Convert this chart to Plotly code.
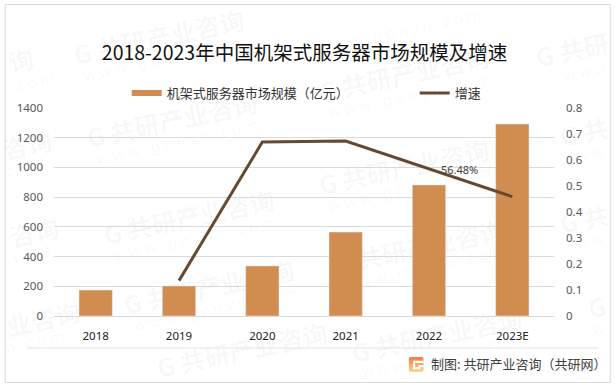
import base64
import plotly.graph_objects as go

W, H = 615, 387
L, R, T, B = 54.3, 554.3, 108, 316

categories = ["2018", "2019", "2020", "2021", "2022", "2023E"]
market_size = [175, 202, 337, 565, 882, 1292]
growth = [None, 0.136, 0.669, 0.673, 0.5648, 0.459]
title = "2018-2023年中国机架式服务器市场规模及增速"
bar_name = "机架式服务器市场规模（亿元）"
line_name = "增速"
source = "制图: 共研产业咨询（共研网）"
left_ticks = [0, 200, 400, 600, 800, 1000, 1200, 1400]
right_ticks = [0, 0.1, 0.2, 0.3, 0.4, 0.5, 0.6, 0.7, 0.8]
right_labels = ["0", "0.1", "0.2", "0.3", "0.4", "0.5", "0.6", "0.7", "0.8"]
# watermark pieces: centre x, centre y, text, size
wm_main = "G 共研产业咨询"
wm_url = "w w w . g o n y n . c o m"
watermarks = [
    (160, 40, wm_main, 25), (165, 59, wm_url, 15),
    (173, 123, wm_main, 25), (178, 142, wm_url, 15),
    (190, 220, wm_main, 25), (195, 239, wm_url, 15),
    (210, 290, wm_main, 25), (215, 309, wm_url, 15),
    (243, 353, wm_main, 25),
    (405, 77, wm_main, 25), (410, 96, wm_url, 15),
    (405, 170, wm_main, 25), (410, 189, wm_url, 15),
    (420, 250, wm_main, 25), (425, 269, wm_url, 15),
    (438, 338, wm_main, 25), (443, 356, wm_url, 15),
    (400, 32, wm_url, 15),
    (22, 63, "询", 25), (32, 83, ". c o m", 15),
    (28, 148, "咨询", 25), (25, 168, "c o m", 15),
    (35, 235, "咨询", 25), (28, 255, ". c o m", 15),
    (44, 322, "业咨询", 25), (35, 342, "n . c o m", 15),
    (573, 53, "G 共研", 25), (585, 72, "w w w", 15),
    (585, 135, "G 共", 25), (590, 154, "w w", 15),
    (585, 222, "G 共", 25), (590, 241, "w w", 15),
    (598, 310, "G", 25), (598, 329, "w", 15),
]

BAR = "#D18C4F"
LINE = "#67492F"
FONT = "Noto Sans CJK SC"


def px(x):
    return (x - L) / (R - L)


def py(y):
    return (B - y) / (B - T)


fig = go.Figure()
fig.add_bar(x=categories, y=market_size, marker_color=BAR, name=bar_name,
            showlegend=False, width=0.4)
fig.add_scatter(x=categories, y=[None] * 6, mode="lines", name=bar_name,
                line=dict(color=BAR, width=6), legend="legend")
fig.add_scatter(x=categories, y=growth, yaxis="y2", mode="lines", name=line_name,
                line=dict(color=LINE, width=3), connectgaps=False, legend="legend2", showlegend=True)

annotations = [
    dict(xref="x", yref="y2", x=categories.index("2022"), y=growth[4], xshift=30, yshift=0,
         xanchor="center", yanchor="middle", text=f"{growth[4] * 100:.2f}%", showarrow=False,
         font=dict(size=11, color="#404040", family="Noto Sans")),
    dict(xref="paper", yref="paper", x=px(429), y=py(363), xanchor="left", yanchor="middle", text=source,
         showarrow=False, font=dict(size=13, color="#404040", family=FONT)),
]

shapes = []
for wx, wy, wtext, wsize in watermarks:
    is_url = wsize < 20
    shapes.append(dict(type="rect", layer="below", xref="paper", yref="paper",
                       x0=px(wx - 1), x1=px(wx + 1), y0=py(wy + 1), y1=py(wy - 1),
                       line=dict(width=0), fillcolor="rgba(0,0,0,0)",
                       label=dict(text=wtext if is_url else f"<b>{wtext}</b>", textangle=-12,
                                  textposition="middle center",
                                  font=dict(size=wsize, color="rgba(0,0,0,0.035)",
                                            family="Noto Sans" if is_url else FONT))))
shapes += [
    dict(type="rect", xref="paper", yref="paper", x0=px(5.5), x1=px(610.5), y0=py(4.5), y1=py(382.5),
         line=dict(color="#D9D9D9", width=1), fillcolor="rgba(0,0,0,0)"),
    dict(type="line", xref="paper", yref="paper", x0=px(27), x1=px(599), y0=py(348), y1=py(348),
         line=dict(color="#E3E3E3", width=1)),
]

svg = ('<svg xmlns="http://www.w3.org/2000/svg" width="14" height="14"><defs><linearGradient id="g" x1="0" y1="0" x2="0" y2="1">'
       '<stop offset="0" stop-color="#F4784A"/><stop offset="1" stop-color="#FBD58C"/></linearGradient></defs>'
       '<rect width="14" height="14" rx="2" fill="url(#g)"/>'
       '<path d="M4 3.5H14V5.5H6V9.5H9V7.5H14V9.5H11V11.5H4Z" fill="#fff"/></svg>')
logo = "data:image/svg+xml;base64," + base64.b64encode(svg.encode()).decode()

legend_font = dict(size=13, color="#333333", family=FONT)
fig.update_layout(
    width=W, height=H,
    margin=dict(l=L, r=W - R, t=T, b=H - B, pad=0),
    paper_bgcolor="white", plot_bgcolor="rgba(0,0,0,0)",
    font=dict(family=FONT),
    title=dict(text=title, x=304.5 / W, xanchor="center", y=1 - 53 / H, yanchor="middle",
               font=dict(size=19.5, color="#111111", family=FONT)),
    bargap=0.6,
    showlegend=True,
    legend=dict(orientation="h", x=px(127), y=py(93), xanchor="left", yanchor="middle", bgcolor="rgba(0,0,0,0)",
                font=legend_font),
    legend2=dict(orientation="h", x=px(415), y=py(93), xanchor="left", yanchor="middle", bgcolor="rgba(0,0,0,0)",
                 font=legend_font),
    xaxis=dict(type="category", range=[-0.5, 5.5], showgrid=False, showline=True, linecolor="#D9D9D9", linewidth=1,
               ticks="", ticklabelstandoff=9, tickfont=dict(size=11.5, color="#222222", family="Noto Sans")),
    yaxis=dict(range=[0, 1400], tickvals=left_ticks, ticks="", gridcolor="#D9D9D9", gridwidth=1, zeroline=False,
               ticklabelstandoff=10, tickfont=dict(size=11.5, color="#595959", family="Noto Sans")),
    yaxis2=dict(range=[0, 0.8], overlaying="y", side="right", tickvals=right_ticks, ticktext=right_labels,
                showgrid=False, zeroline=False, ticks="", ticklabelstandoff=11,
                tickfont=dict(size=11.5, color="#595959", family="Noto Sans")),
    annotations=annotations,
    shapes=shapes,
    images=[dict(source=logo, xref="paper", yref="paper", x=px(409), y=py(357), sizex=15 / (R - L), sizey=15 / (B - T),
                 xanchor="left", yanchor="top", layer="above", sizing="stretch")],
)

fig.write_html("out.html", config={"displayModeBar": False}, post_script="document.body.style.margin='0';")
